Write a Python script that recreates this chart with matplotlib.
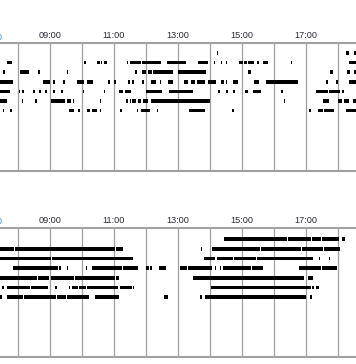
import matplotlib
matplotlib.use("Agg")
import matplotlib.pyplot as plt

# activity intervals per row, (start, end) in decimal hours
upper_bars = [
    [(14.22, 14.25), (18.25, 18.34), (18.5, 18.56)],
    [(7.66, 7.81), (10.06, 10.13), (10.47, 10.56), (10.6, 10.63), (10.69, 10.78),
     (11.41, 11.44), (11.5, 11.85), (11.88, 12.47), (12.66, 13.25), (13.63, 13.94),
     (14.13, 14.16), (14.35, 14.38), (14.5, 14.53), (14.91, 15.03), (15.06, 15.16),
     (15.19, 15.38), (15.47, 15.53), (15.66, 15.81), (16.53, 16.56), (18.34, 18.56)],
    [(7.53, 7.6), (8.06, 8.35), (8.63, 8.69), (9.53, 9.56), (11.66, 11.72),
     (11.88, 12.0), (12.06, 12.19), (12.22, 12.85), (13.0, 13.88), (15.19, 15.28),
     (17.75, 17.85), (18.28, 18.38), (18.5, 18.56)],
    [(7.44, 7.85), (8.78, 9.0), (9.1, 9.16), (9.41, 9.47), (9.85, 10.06),
     (10.16, 10.35), (10.81, 10.88), (11.0, 11.06), (11.44, 11.5), (11.56, 11.63),
     (11.88, 11.94), (12.16, 12.31), (12.44, 12.47), (12.69, 12.85), (13.19, 13.31),
     (13.41, 13.53), (13.6, 13.85), (13.94, 14.19), (14.35, 14.44), (14.5, 14.53),
     (14.72, 14.88), (15.38, 15.53), (15.75, 16.75), (17.63, 17.69), (17.94, 18.0),
     (18.34, 18.56)],
    [(7.44, 7.75), (8.03, 8.06), (8.13, 8.19), (8.47, 8.53), (8.66, 8.72),
     (8.85, 8.91), (9.1, 9.16), (9.35, 9.41), (10.03, 10.06), (10.69, 10.72),
     (11.16, 11.28), (11.35, 11.53), (12.0, 12.5), (12.72, 13.47), (14.25, 14.31),
     (14.5, 14.56), (14.72, 14.78), (15.1, 15.19), (15.35, 15.6), (16.22, 16.28),
     (17.31, 17.69), (17.72, 18.06), (18.13, 18.19)],
    [(7.44, 7.66), (8.13, 8.16), (8.53, 8.6), (9.03, 9.47), (9.53, 9.66),
     (9.72, 9.75), (10.56, 10.6), (11.38, 11.44), (11.5, 11.53), (11.56, 11.69),
     (11.75, 11.85), (11.91, 12.06), (12.16, 14.0), (16.31, 16.35), (17.53, 17.72),
     (18.0, 18.13), (18.19, 18.34), (18.47, 18.56)],
    [(7.53, 7.56), (7.75, 7.81), (9.6, 9.75), (9.88, 9.94), (10.16, 10.25),
     (10.31, 10.47), (10.56, 10.6), (11.19, 11.25), (11.72, 11.75), (11.85, 12.13),
     (12.35, 12.38), (13.35, 13.85), (14.69, 14.75), (17.1, 17.16), (17.38, 17.53),
     (17.56, 17.88), (18.25, 18.56)],
]

lower_bars = [
    [(14.44, 16.41), (16.44, 17.16), (17.19, 17.47), (17.5, 18.03), (18.13, 18.22)],
    [(7.44, 7.88), (7.91, 11.03), (11.06, 11.28), (13.72, 13.75), (14.06, 15.56),
     (15.6, 16.85), (16.88, 17.53), (17.56, 18.06)],
    [(7.44, 9.03), (9.06, 11.6), (13.81, 14.16), (14.22, 14.72), (14.75, 15.44),
     (15.47, 17.22), (17.41, 17.44), (17.72, 17.75)],
    [(7.85, 9.25), (9.28, 9.35), (9.53, 9.56), (10.13, 10.16), (10.31, 11.25),
     (11.28, 11.75), (12.0, 12.1), (12.13, 12.19), (12.41, 12.63), (13.06, 13.28),
     (13.31, 14.06), (14.16, 14.19), (14.31, 14.35), (14.41, 15.28), (15.31, 15.66),
     (16.78, 17.47), (17.5, 17.97)],
    [(7.44, 8.6), (8.63, 8.97), (9.03, 9.75), (9.78, 11.03), (11.06, 11.16),
     (13.47, 16.94), (17.06, 17.22)],
    [(7.5, 7.56), (7.66, 8.38), (8.41, 8.94), (9.16, 9.22), (9.6, 9.63),
     (9.69, 9.88), (9.91, 10.13), (10.16, 11.13), (11.19, 11.56), (11.6, 11.63),
     (14.03, 17.16), (17.19, 17.25), (17.31, 17.41)],
    [(7.44, 7.5), (7.66, 8.16), (8.19, 9.19), (9.22, 9.5), (9.53, 10.22),
     (10.41, 11.16), (12.56, 12.69), (13.69, 13.75), (13.85, 17.0), (17.13, 17.19)],
]

label_hours = [9, 11, 13, 15, 17]
grid_hours = list(range(8, 19))
x_start, x_end = 7.4375, 18.5625

W, H = 356, 364
fig = plt.figure(figsize=(W / 100, H / 100), dpi=100)
fig.patch.set_facecolor("white")


def draw_panel(rect, rows, top_lim):
    ax = fig.add_axes(rect)
    for hour in grid_hours:
        ax.axvline(hour, color="#a0a0a0", lw=0.9, zorder=1)
    for i, row in enumerate(rows):
        ax.broken_barh([(s, e - s) for s, e in row], (i - 0.19, 0.38),
                       facecolor="black", edgecolor="none", zorder=2)
    ax.set_xlim(x_start, x_end)
    ax.set_ylim(top_lim + 128 / 9.6, top_lim)
    ax.set_yticks([])
    ax.xaxis.tick_top()
    ax.set_xticks(label_hours)
    ax.set_xticklabels([f"{h:02d}:00" for h in label_hours],
                       fontsize=6.6, color="#2b2b3b", family="Liberation Sans")
    ax.tick_params(axis="x", length=0, pad=2)
    for side in ["left", "right"]:
        ax.spines[side].set_visible(False)
    for side in ["top", "bottom"]:
        ax.spines[side].set_color("#a0a0a0")
        ax.spines[side].set_linewidth(1.5)
    # cut-off label at the left edge, as in the original
    fig.text(3 / W, rect[1] + rect[3] + 6 / H, "07:00", ha="right", va="center",
             fontsize=6.6, color="#3a9ad9", family="Liberation Sans")
    return ax


draw_panel([0, 1 - 171 / H, 1, 128 / H], upper_bars, -1.04)
draw_panel([0, 1 - 357 / H, 1, 129 / H], lower_bars, -1.15)

fig.savefig("out.png", dpi=100, facecolor="white")
